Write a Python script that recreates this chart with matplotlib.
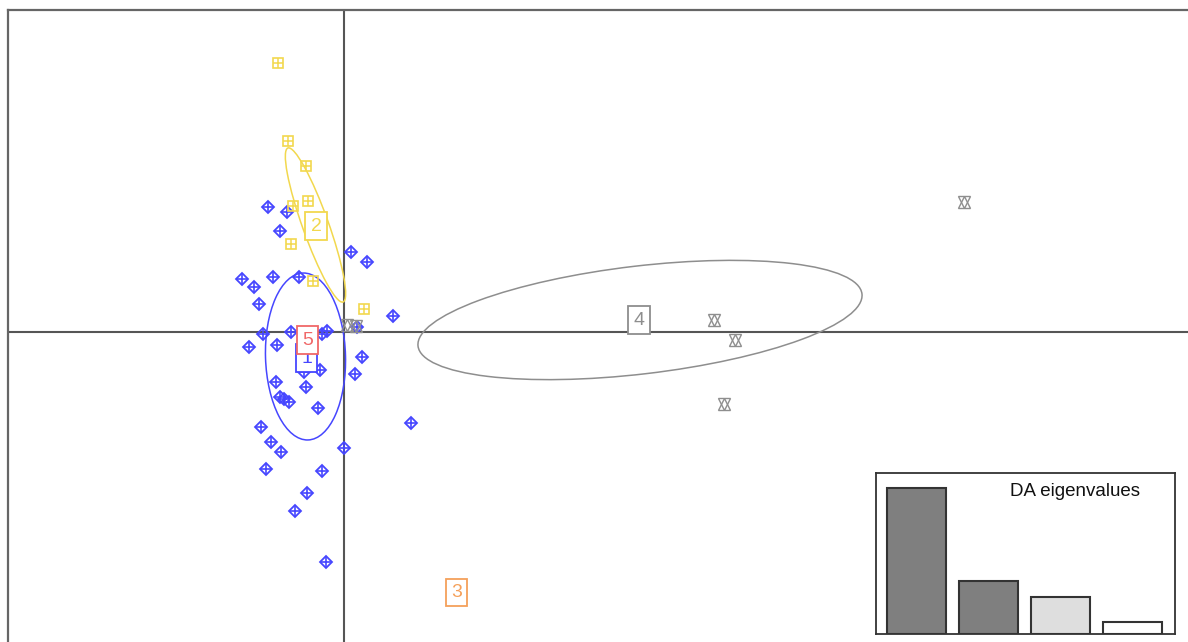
import matplotlib
matplotlib.use("Agg")
import matplotlib.pyplot as plt
from matplotlib.patches import Ellipse
import numpy as np

plt.rcParams['font.family'] = ['Liberation Sans', 'DejaVu Sans']

# discriminant function scores, per group
g1_x = [-0.76, -0.57, -0.64, -1.02, -0.90, -0.71, -0.45, -0.85, 0.07, 0.23, 0.49, -0.81, -0.53,
        -0.22, -0.17, 0.13, -0.95, -0.67, 0.18, 0.11, -0.24, -0.40, -0.68, -0.38, -0.64, -0.60,
        -0.55, -0.26, -0.83, -0.73, -0.63, 0.00, -0.78, -0.22, -0.37, -0.49, -0.18, 0.67]
g1_y = [1.25, 1.20, 1.01, 0.53, 0.45, 0.55, 0.55, 0.28, 0.80, 0.70, 0.16, -0.02, 0.00,
        -0.02, 0.01, 0.05, -0.15, -0.13, -0.25, -0.42, -0.38, -0.40, -0.50, -0.55, -0.65, -0.67,
        -0.70, -0.76, -0.95, -1.10, -1.20, -1.16, -1.37, -1.39, -1.61, -1.79, -2.30, -0.91]
g2_x = [-0.66, -0.56, -0.38, -0.36, -0.51, -0.53, -0.31, 0.20]
g2_y = [2.69, 1.91, 1.66, 1.31, 1.26, 0.88, 0.51, 0.23]
g4_x = [6.20, 3.70, 3.91, 3.80, 0.03, 0.12]
g4_y = [1.30, 0.12, -0.08, -0.72, 0.07, 0.06]

# group labels (centroids)
grupos = ["1", "2", "3", "4", "5"]
lab_x = [-0.375, -0.28, 1.125, 2.95, -0.365]
lab_y = [-0.26, 1.06, -2.605, 0.12, -0.08]
cores = ["#4646ff", "#f2d84e", "#f5a05a", "#8e8e8e", "#f06868"]

# ellipses: group, centre x, centre y, half major, half minor, angle
elip_grupo = [0, 1, 3]
elip_cx = [-0.385, -0.285, 2.96]
elip_cy = [-0.245, 1.07, 0.12]
elip_a = [0.835, 0.818, 2.235]
elip_b = [0.40, 0.13, 0.54]
elip_ang = [91.7, 109.7, 6.7]

# eigenvalues
autovalores = [145, 53, 37, 12]
cor_barras = ["#7f7f7f", "#7f7f7f", "#dedede", "white"]

fig = plt.figure(figsize=(11.88, 6.42), dpi=100)
ax = fig.add_axes([8 / 1188, 0, 1180 / 1188, 632 / 642])
ax.set_xlim(-3.36, 8.44)
ax.set_ylim(-3.10, 3.22)
ax.set_xticks([])
ax.set_yticks([])
ax.spines['right'].set_visible(False)
ax.spines['bottom'].set_visible(False)
for s in ['left', 'top']:
    ax.spines[s].set_color("#666666")
    ax.spines[s].set_linewidth(1.6)

ax.axhline(0, color="#555555", lw=1.5, zorder=1)
ax.axvline(0, color="#555555", lw=1.5, zorder=1)

# grupo 1 - diamond with cross
ax.plot(g1_x, g1_y, 'D', ms=6.5, mfc='none', mec=cores[0], mew=1.3, ls='none', zorder=3)
ax.plot(g1_x, g1_y, '+', ms=7.5, mec=cores[0], mew=1.2, ls='none', zorder=3)
# grupo 2 - square with grid
ax.plot(g2_x, g2_y, 's', ms=7.5, mfc='none', mec=cores[1], mew=1.2, ls='none', zorder=3)
ax.plot(g2_x, g2_y, '+', ms=7.5, mec=cores[1], mew=1.1, ls='none', zorder=3)
# grupo 4 - star of david
ax.plot(g4_x, g4_y, '^', ms=8, mfc='none', mec=cores[3], mew=1, ls='none', zorder=3)
ax.plot(g4_x, g4_y, 'v', ms=8, mfc='none', mec=cores[3], mew=1, ls='none', zorder=3)

for i in range(len(elip_grupo)):
    e = Ellipse((elip_cx[i], elip_cy[i]), 2 * elip_a[i], 2 * elip_b[i], angle=elip_ang[i],
                fill=False, ec=cores[elip_grupo[i]], lw=1.1, zorder=2)
    ax.add_patch(e)

for i in range(len(grupos)):
    ax.text(lab_x[i], lab_y[i], grupos[i], color=cores[i], fontsize=14, ha='center', va='center',
            zorder=5, bbox=dict(boxstyle='square,pad=0.28', fc='white', ec=cores[i], lw=1.3))

# inset com autovalores
ax2 = fig.add_axes([876 / 1188, 8 / 642, 299 / 1188, 161 / 642])
ax2.bar(range(len(autovalores)), autovalores, width=0.83, color=cor_barras,
        edgecolor="#333333", linewidth=1.5)
ax2.set_xlim(-0.5625, 3.59)
ax2.set_ylim(0, 160)
ax2.set_xticks([])
ax2.set_yticks([])
for s in ax2.spines.values():
    s.set_color("#333333")
    s.set_linewidth(1.3)
ax2.text(0.666, 0.888, "DA eigenvalues", transform=ax2.transAxes, fontsize=13.5,
         ha='center', va='center', color="#111111")

fig.savefig("out.png", dpi=100)
